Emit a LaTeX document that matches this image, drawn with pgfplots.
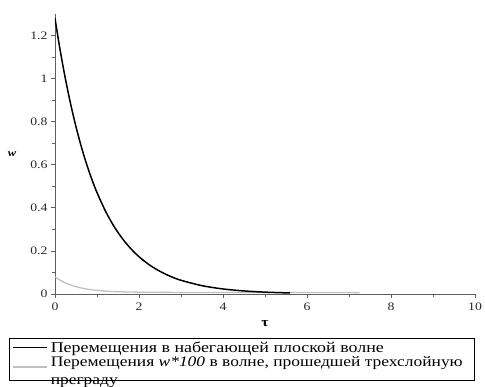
\documentclass[border=0pt]{standalone}
\usepackage{fontspec}
\setmainfont[FakeStretch=1.2]{Liberation Serif}
\usepackage{pgfplots}
\pgfplotsset{compat=1.18}

\definecolor{axisgray}{RGB}{95,95,95}
\definecolor{lightcurve}{RGB}{192,192,192}

\begin{document}
\begin{tikzpicture}
\begin{axis}[
  name=ax,
  scale only axis, width=420bp, height=280bp,
  xmin=0, xmax=10, ymin=0, ymax=1.3,
  axis lines=left,
  axis line style={axisgray, line width=0.9bp, -},
  xtick={0,2,4,6,8,10}, minor xtick={1,3,5,7,9},
  ytick={0,0.2,0.4,0.6,0.8,1,1.2}, minor ytick={0.1,0.3,0.5,0.7,0.9,1.1},
  tick align=outside, major tick length=4bp, minor tick length=3bp,
  every tick/.style={axisgray, line width=0.8bp},
  /pgf/number format/assume math mode=true,
  ticklabel style={font=\fontsize{11.5}{12}\selectfont, text=black!85},
  xticklabel style={yshift=-1bp},
  ylabel={\textbf{\textit{w}}},
  ylabel style={font=\fontsize{10.5}{11}\selectfont, rotate=-90, anchor=center,
    at={(axis description cs:-0.102,0.50)}},
  xlabel={\textbf{τ}},
  xlabel style={font=\fontsize{13}{14}\selectfont, anchor=center,
    at={(axis description cs:0.5,-0.104)}},
  reverse legend,
  legend style={at={(axis description cs:-0.1095,-0.157)}, anchor=north west,
    draw=black, line width=0.7bp, inner xsep=3bp, inner ysep=3bp,
    column sep=3bp, row sep=3.5bp,
    nodes={inner sep=0pt, font=\fontsize{15}{18}\selectfont}},
  legend cell align=left,
  legend image code/.code={\draw[#1, line width=1.4bp] (0bp,0bp) -- (34bp,0bp);},
]
% transmitted wave through the three-layer barrier, scaled by 100
\addplot[lightcurve, line width=1.3bp, smooth] coordinates {
  (0,0.080) (0.1,0.0668) (0.2,0.0559) (0.3,0.0471) (0.4,0.0398) (0.5,0.0339)
  (0.6,0.0290) (0.8,0.0217) (1.0,0.0169) (1.25,0.0130) (1.5,0.0106)
  (2.0,0.0085) (2.5,0.0077) (3.0,0.0073) (4.0,0.0070) (5.0,0.0068)
  (6.0,0.0066) (7.25,0.0065)
};
\addlegendentry{\parbox[c]{421bp}{\fontsize{14.6}{18}\selectfont Перемещения \textit{w*100} в волне, прошедшей трехслойную\\преграду}}
% incident plane wave
\addplot[black, line width=1.5bp, smooth] coordinates {
  (0,1.28) (0.1,1.1582) (0.2,1.0480) (0.3,0.9482) (0.4,0.8580) (0.5,0.7764)
  (0.6,0.7025) (0.7,0.6356) (0.8,0.5751) (0.9,0.5204) (1.0,0.4709)
  (1.2,0.3855) (1.4,0.3156) (1.6,0.2584) (1.8,0.2116) (2.0,0.1732)
  (2.25,0.1349) (2.5,0.1051) (2.75,0.0818) (3.0,0.0637) (3.5,0.0387)
  (4.0,0.0234) (4.5,0.0142) (5.0,0.0086) (5.6,0.0047)
};
\addlegendentry{\parbox[c]{421bp}{Перемещения в набегающей плоской волне}}
\end{axis}
\pgfresetboundingbox
\useasboundingbox ([shift={(-55bp,-93bp)}]ax.south west) rectangle ([shift={(10bp,14bp)}]ax.north east);
\end{tikzpicture}
\end{document}
